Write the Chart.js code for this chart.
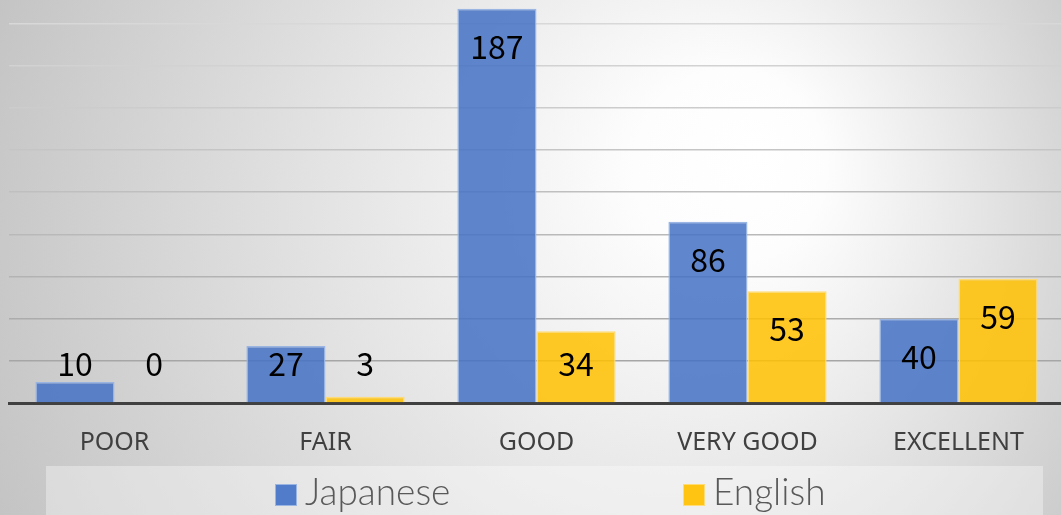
<!DOCTYPE html>
<html>
<head>
<meta charset="utf-8">
<script src="https://cdn.jsdelivr.net/npm/chart.js@4/dist/chart.umd.min.js"></script>
<style>
  html, body { margin: 0; padding: 0; overflow: hidden; background: #d0d0d0; }
  #wrap { width: 1064px; height: 515px; position: relative; }
</style>
</head>
<body>
<div id="wrap"><canvas id="myChart"></canvas></div>
<script>
// data
let categories = ['POOR', 'FAIR', 'GOOD', 'VERY GOOD', 'EXCELLENT'];
let japanese = [10, 27, 187, 86, 40];
let english = [0, 3, 34, 53, 59];
let seriesNames = ['Japanese', 'English'];

let blue = 'rgba(68,114,196,0.85)';
let yellow = 'rgba(255,192,0,0.85)';

// background: off-centre radial grey fade
const backdrop = {
  id: 'backdrop',
  beforeDraw(chart) {
    let c = chart.ctx;
    let g = c.createRadialGradient(760, 150, 0, 560, 260, 640);
    g.addColorStop(0, '#ffffff');
    g.addColorStop(0.15, '#fdfdfd');
    g.addColorStop(1, '#c2c2c2');
    c.save();
    c.fillStyle = g;
    c.fillRect(0, 0, chart.width, chart.height);
    c.restore();
  }
};

// value labels, inside end of the bar but never lower than a fixed line
const valueLabels = {
  id: 'valueLabels',
  afterDatasetsDraw(chart) {
    let c = chart.ctx;
    let base = chart.scales.y.getPixelForValue(0);
    c.save();
    c.font = '32px "Noto Sans CJK JP"';
    c.fillStyle = '#000';
    c.textAlign = 'center';
    c.textBaseline = 'middle';
    chart.data.datasets.forEach((ds, i) => {
      chart.getDatasetMeta(i).data.forEach((bar, j) => {
        let y = Math.min(bar.y + 38, base - 39);
        c.fillText(String(ds.data[j]), bar.x, y);
      });
    });
    c.restore();
  }
};

// legend in a pale box along the bottom
const boxLegend = {
  id: 'boxLegend',
  afterDraw(chart) {
    let c = chart.ctx;
    c.save();
    c.fillStyle = 'rgba(255,255,255,0.35)';
    c.fillRect(46, 466, 997, 60);
    let starts = [275, 683];
    c.font = '300 37px Lato';
    c.textBaseline = 'alphabetic';
    c.textAlign = 'left';
    chart.data.datasets.forEach((ds, i) => {
      let x = starts[i];
      c.fillStyle = ds.borderColor;
      c.fillRect(x, 484, 22, 22);
      c.fillStyle = ds.backgroundColor;
      c.fillRect(x + 1, 485, 20, 20);
      c.fillStyle = '#595959';
      c.fillText(ds.label, x + 30, 505);
    });
    c.restore();
  }
};

function gridColor(ctx) {
  let v = ctx.tick ? ctx.tick.value : 0;
  if (v % 20 !== 0) return 'rgba(0,0,0,0)';
  let t = Math.min(v / 180, 1);
  let k = Math.round(160 + (216 - 160) * t);
  return 'rgb(' + k + ',' + k + ',' + k + ')';
}

new Chart(document.getElementById('myChart'), {
  type: 'bar',
  data: {
    labels: categories,
    datasets: [
      { label: seriesNames[0], data: japanese, backgroundColor: blue, borderColor: 'rgba(150,178,226,0.95)', borderWidth: 1.5 },
      { label: seriesNames[1], data: english, backgroundColor: yellow, borderColor: 'rgba(255,218,110,0.95)', borderWidth: 1.5 }
    ]
  },
  options: {
    responsive: true,
    maintainAspectRatio: false,
    animation: false,
    categoryPercentage: 0.75,
    barPercentage: 1.0,
    layout: { padding: { left: 9, right: 0, top: 0, bottom: 32 } },
    plugins: {
      legend: { display: false },
      tooltip: { enabled: false }
    },
    scales: {
      x: {
        grid: { display: false, drawTicks: false },
        border: { display: true, color: '#404040', width: 3 },
        ticks: {
          color: '#404040',
          padding: 25,
          font: { family: '"Noto Sans"', size: 25 }
        }
      },
      y: {
        min: 0,
        max: 191.2,
        ticks: { display: false, stepSize: 20 },
        grid: { color: gridColor, lineWidth: 1.5, drawTicks: false },
        border: { display: false }
      }
    }
  },
  plugins: [backdrop, valueLabels, boxLegend]
});
</script>
</body>
</html>
